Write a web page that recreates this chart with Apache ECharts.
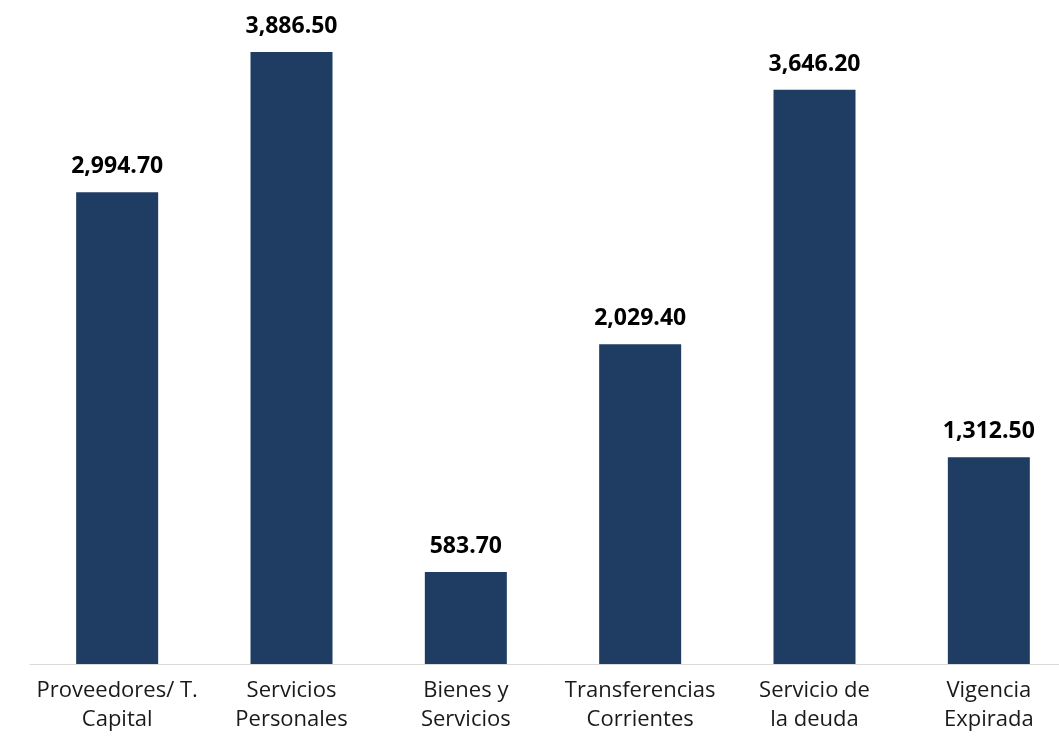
<!DOCTYPE html>
<html>
<head>
<meta charset="utf-8">
<script src="https://cdn.jsdelivr.net/npm/echarts@6/dist/echarts.min.js"></script>
<style>
  html, body { margin: 0; padding: 0; background: #fff; }
  #chart { width: 1059px; height: 739px; }
</style>
</head>
<body>
<div id="chart"></div>
<script>
const categories = ['Proveedores/ T.\nCapital', 'Servicios\nPersonales', 'Bienes y\nServicios',
  'Transferencias\nCorrientes', 'Servicio de\nla deuda', 'Vigencia\nExpirada']
const values = [2994.7, 3886.5, 583.7, 2029.4, 3646.2, 1312.5]

const fmt = v => v.toLocaleString('en-US', { minimumFractionDigits: 2, maximumFractionDigits: 2 })

const chart = echarts.init(document.getElementById('chart'), null, { renderer: 'canvas' })
chart.setOption({
  backgroundColor: '#fff',
  animation: false,
  grid: { top: 34, height: 630, left: 30, width: 1046, containLabel: false, outerBoundsMode: 'none' },
  xAxis: {
    type: 'category', data: categories,
    axisLine: { lineStyle: { color: '#d9d9d9', width: 1 } },
    axisTick: { show: false },
    axisLabel: {
      color: '#1a1a1a', fontSize: 22, fontFamily: '"Open Sans", sans-serif',
      lineHeight: 29, margin: 12, interval: 0,
    },
  },
  yAxis: { type: 'value', min: 0, max: 4000, show: false, splitLine: { show: false } },
  series: [{
    type: 'bar', data: values, barWidth: 82,
    itemStyle: { color: '#1f3d63' },
    label: {
      show: true, position: 'top', distance: 14,
      color: '#000', fontSize: 23, fontWeight: 'bold', fontFamily: '"Open Sans", sans-serif',
      formatter: p => fmt(p.value),
    },
  }],
})
</script>
</body>
</html>
